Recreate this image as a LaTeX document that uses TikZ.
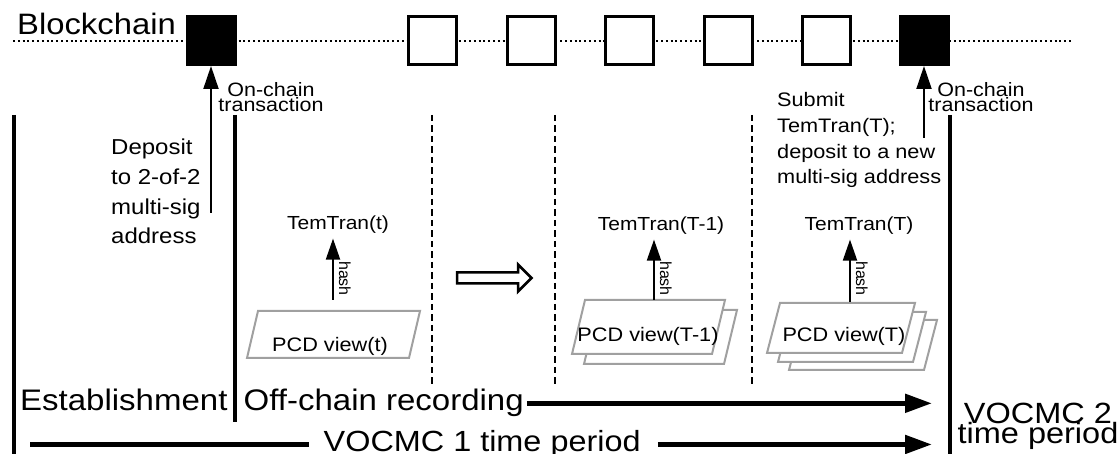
\documentclass[tikz,border=0pt]{standalone}
\usepackage{fontspec}
\setmainfont{Liberation Sans}
\usetikzlibrary{arrows.meta}

\definecolor{sheetgray}{RGB}{160,160,160}

\begin{document}
\begin{tikzpicture}[x=1pt,y=-1pt,
  label/.style={inner sep=0pt, yscale=0.9},
  bigtext/.style={label, font=\fontsize{33}{33}\selectfont},
  notetext/.style={label, align=left},
  txtext/.style={label, font={\fontsize{21.5}{16.7}\selectfont\lineskiplimit-50pt}, align=center},
  temtext/.style={label, font=\fontsize{21}{24}\selectfont},
  pcdtext/.style={label, font=\fontsize{21.7}{24}\selectfont},
  hashlabel/.style={font=\fontsize{16}{18}\selectfont, inner sep=0pt, rotate=-90, anchor=base west},
  block/.style={draw=black, line width=3pt, minimum size=48pt, inner sep=0pt},
  chainblock/.style={block, fill=white},
  anchorblock/.style={block, fill=black},
  chainline/.style={line width=2pt, dash pattern=on 2pt off 2.8pt},
  phasebar/.style={line width=4.5pt},
  divider/.style={line width=2.5pt, dash pattern=on 6.5pt off 4pt},
  txarrow/.style={line width=2pt, -{Triangle[length=23pt,width=15pt]}},
  hasharrow/.style={line width=2pt, -{Triangle[length=21pt,width=14pt]}, shorten >=4.5pt},
  bigline/.style={line width=5pt},
  bigarrow/.style={line width=5pt, -{Triangle[length=27pt,width=18pt]}},
  sheet/.style={draw=sheetgray, line width=2pt, fill=white, line join=miter},
  hollowarrow/.style={draw=black, line width=2.5pt, fill=white, line join=miter}
]
\useasboundingbox (0,0) rectangle (1120,454);

% the chain of blocks
\coordinate (chainL) at (13,41);
\coordinate (chainR) at (1073,41);
\draw[chainline] (chainL) -- (chainR);
\node[bigtext, font=\fontsize{32.8}{33}\selectfont, anchor=base west] (chainlabel) at (17,35) {Blockchain};
\node[anchorblock] (b0) at (211,40.5) {};
\foreach \i/\x in {1/432.5,2/531,3/629.5,4/728,5/826.5}
  \node[chainblock] (b\i) at (\x,40.5) {};
\node[anchorblock] (b6) at (924.5,40.5) {};

% on-chain transactions
\coordinate (depositfoot) at (211,213);
\draw[txarrow] (depositfoot) -- (b0.south);
\node[txtext, anchor=base] (tx1) at (271,112) {On-chain\\transaction};
\coordinate (submitfoot) at (924,138);
\draw[txarrow] (submitfoot) -- (submitfoot |- b6.south);
\node[txtext, anchor=base] (tx2) at (981,112) {On-chain\\transaction};

\node[notetext, font=\fontsize{24}{33.3}\selectfont, anchor=base west] (deposit) at (111,244)
  {Deposit\\to 2-of-2\\multi-sig\\address};
\node[notetext, font=\fontsize{21.7}{28.6}\selectfont, anchor=base west] (submit) at (777,184)
  {Submit\\TemTran(T);\\deposit to a new\\multi-sig address};

% phase boundaries
\draw[phasebar] (14,115) -- (14,460);
\draw[phasebar] (235,115) -- (235,422);
\draw[phasebar] (950,115) -- (950,460);
\foreach \x in {432,555,752}
  \draw[divider] (\x,115) -- (\x,385);

% recording round t
\draw[sheet] (258,311) -- (420,311) -- (409,358) -- (247,358) -- cycle;
\node[pcdtext, anchor=base] (pcd1) at (330,352) {PCD view(t)};
\node[temtext, anchor=base] (tem1) at (338,230) {TemTran(t)};
\coordinate (h1) at (333,300);
\draw[hasharrow] (h1) -- (h1 |- tem1.south);
\node[hashlabel] (hash1) at (339,261) {hash};

% progression
\draw[hollowarrow] (457,272.5) -- (518,272.5) -- (518,264.5) -- (531.5,278)
  -- (518,291.5) -- (518,283.5) -- (457,283.5) -- cycle;

% recording round T-1
\draw[sheet] (597,310) -- (737,310) -- (724,364) -- (584,364) -- cycle;
\draw[sheet] (585,300) -- (725,300) -- (712,354) -- (572,354) -- cycle;
\node[pcdtext, anchor=base] (pcd2) at (648,342) {PCD view(T-1)};
\node[temtext, anchor=base] (tem2) at (661,231) {TemTran(T-1)};
\coordinate (h2) at (654,300);
\draw[hasharrow] (h2) -- (h2 |- tem2.south);
\node[hashlabel] (hash2) at (660,261) {hash};

% recording round T
\draw[sheet] (802,320) -- (937,320) -- (924,370) -- (789,370) -- cycle;
\draw[sheet] (791,312) -- (926,312) -- (913,362) -- (778,362) -- cycle;
\draw[sheet] (780,303) -- (915,303) -- (902,353) -- (767,353) -- cycle;
\node[pcdtext, anchor=base] (pcd3) at (844,342) {PCD view(T)};
\node[temtext, anchor=base] (tem3) at (859,231) {TemTran(T)};
\coordinate (h3) at (850,302);
\draw[hasharrow] (h3) -- (h3 |- tem3.south);
\node[hashlabel] (hash3) at (856,261) {hash};

% phase labels and time periods
\coordinate (tipx) at (932,0);
\coordinate (startx) at (30,0);
\node[bigtext, anchor=base west] (estab) at (20,411) {Establishment};
\node[bigtext, anchor=base west] (offchain) at (243.5,411) {Off-chain recording};
\draw[bigarrow] ([xshift=3pt]offchain.east) -- (offchain.east -| tipx);
\node[bigtext, font=\fontsize{32.4}{33}\selectfont, anchor=base west] (period1) at (323.5,452) {VOCMC 1 time period};
\draw[bigline] (period1.west -| startx) -- ([xshift=-15pt]period1.west);
\draw[bigarrow] ([xshift=17pt]period1.east) -- (period1.east -| tipx);
\node[bigtext, font={\fontsize{32.5}{22.2}\selectfont\lineskiplimit-50pt}, align=center, anchor=base] (period2) at (1038,443)
  {VOCMC 2\\time period};
\end{tikzpicture}
\end{document}
